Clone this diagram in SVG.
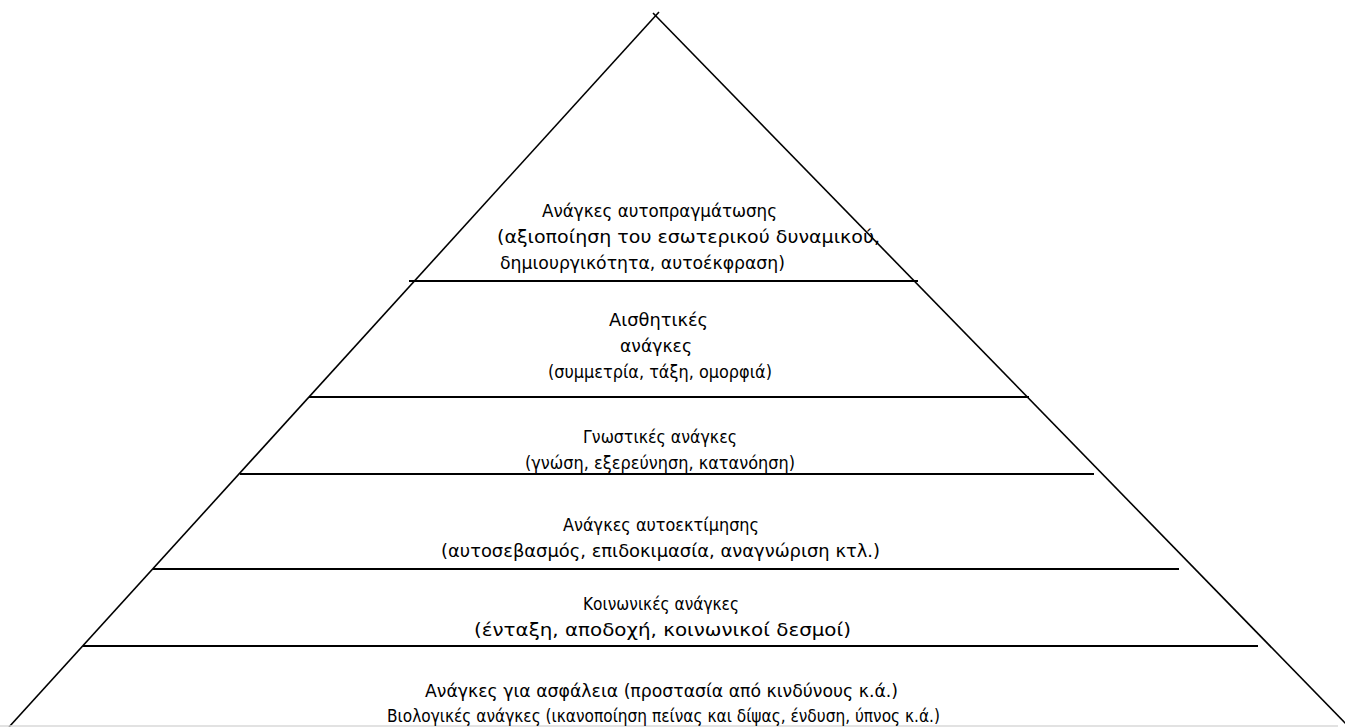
<svg xmlns="http://www.w3.org/2000/svg" width="1345" height="727" viewBox="0 0 1345 727">
<style>
.edge{stroke:#000;stroke-width:1.6;fill:none;stroke-linecap:butt}
.tier{stroke:#000;stroke-width:2;fill:none}
text{font-family:"DejaVu Sans","Liberation Sans",sans-serif;font-size:17px;fill:#000}
</style>
<rect width="1345" height="727" fill="#fff"/>
<g id="pyramid-outline">
<line class="edge" x1="659" y1="12" x2="9" y2="727"/>
<line class="edge" x1="653" y1="13" x2="1349" y2="727"/>
<line x1="0" y1="726" x2="1338" y2="726" stroke="#d8d8d8" stroke-width="1.5"/>
</g>
<g id="tier-lines">
<line class="tier" x1="409" y1="281" x2="918" y2="281"/>
<line class="tier" x1="309" y1="397" x2="1029" y2="397"/>
<line class="tier" x1="240" y1="474" x2="1094" y2="474"/>
<line class="tier" x1="153" y1="569" x2="1179" y2="569"/>
<line class="tier" x1="83" y1="646" x2="1258" y2="646"/>
</g>
<g id="self-actualization">
<text x="542" y="217" textLength="235" lengthAdjust="spacingAndGlyphs">Ανάγκες αυτοπραγμάτωσης</text>
<text x="497" y="243" textLength="383" lengthAdjust="spacingAndGlyphs">(αξιοποίηση του εσωτερικού δυναμικού,</text>
<text x="500" y="269" textLength="285" lengthAdjust="spacingAndGlyphs">δημιουργικότητα, αυτοέκφραση)</text>
</g>
<g id="aesthetic">
<text x="609" y="326" textLength="99" lengthAdjust="spacingAndGlyphs">Αισθητικές</text>
<text x="620" y="352" textLength="72" lengthAdjust="spacingAndGlyphs">ανάγκες</text>
<text x="548" y="378" textLength="224" lengthAdjust="spacingAndGlyphs">(συμμετρία, τάξη, ομορφιά)</text>
</g>
<g id="cognitive">
<text x="583" y="443" textLength="154" lengthAdjust="spacingAndGlyphs">Γνωστικές ανάγκες</text>
<text x="525" y="469" textLength="270" lengthAdjust="spacingAndGlyphs">(γνώση, εξερεύνηση, κατανόηση)</text>
</g>
<g id="esteem">
<text x="563" y="531" textLength="196" lengthAdjust="spacingAndGlyphs">Ανάγκες αυτοεκτίμησης</text>
<text x="441" y="557" textLength="439" lengthAdjust="spacingAndGlyphs">(αυτοσεβασμός, επιδοκιμασία, αναγνώριση κτλ.)</text>
</g>
<g id="social">
<text x="583" y="610" textLength="156" lengthAdjust="spacingAndGlyphs">Κοινωνικές ανάγκες</text>
<text x="474" y="636" textLength="377" lengthAdjust="spacingAndGlyphs">(ένταξη, αποδοχή, κοινωνικοί δεσμοί)</text>
</g>
<g id="safety-biological">
<text x="425" y="697" textLength="473" lengthAdjust="spacingAndGlyphs">Ανάγκες για ασφάλεια (προστασία από κινδύνους κ.ά.)</text>
<text x="387" y="722" textLength="553" lengthAdjust="spacingAndGlyphs">Βιολογικές ανάγκες (ικανοποίηση πείνας και δίψας, ένδυση, ύπνος κ.ά.)</text>
</g>
</svg>
